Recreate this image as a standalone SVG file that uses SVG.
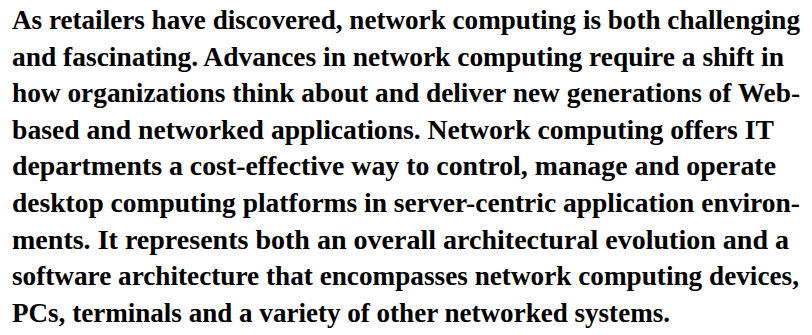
<svg xmlns="http://www.w3.org/2000/svg" width="812" height="335" viewBox="0 0 812 335">
<style>
.t{font-family:"Liberation Serif","Times New Roman",serif;font-weight:bold;font-size:28px;fill:#000}
</style>
<rect width="812" height="335" fill="#fff"/>
<g id="paragraph">
<text class="t" x="12" y="29" textLength="788" lengthAdjust="spacingAndGlyphs">As retailers have discovered, network computing is both challenging</text>
<text class="t" x="12" y="65.6" textLength="772" lengthAdjust="spacingAndGlyphs">and fascinating. Advances in network computing require a shift in</text>
<text class="t" x="12" y="102.2" textLength="788" lengthAdjust="spacingAndGlyphs">how organizations think about and deliver new generations of Web-</text>
<text class="t" x="12" y="138.8" textLength="762" lengthAdjust="spacingAndGlyphs">based and networked applications. Network computing offers IT</text>
<text class="t" x="12" y="175.4" textLength="764" lengthAdjust="spacingAndGlyphs">departments a cost-effective way to control, manage and operate</text>
<text class="t" x="12" y="212" textLength="788" lengthAdjust="spacingAndGlyphs">desktop computing platforms in server-centric application environ-</text>
<text class="t" x="12" y="248.6" textLength="777" lengthAdjust="spacingAndGlyphs">ments. It represents both an overall architectural evolution and a</text>
<text class="t" x="12" y="285.2" textLength="787" lengthAdjust="spacingAndGlyphs">software architecture that encompasses network computing devices,</text>
<text class="t" x="12" y="321.8" textLength="658" lengthAdjust="spacingAndGlyphs">PCs, terminals and a variety of other networked systems.</text>
</g>
</svg>
